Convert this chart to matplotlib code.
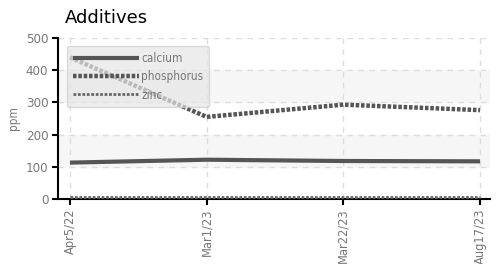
import matplotlib
matplotlib.use("Agg")
import matplotlib.pyplot as plt

dates = ["Apr5/22", "Mar1/23", "Mar22/23", "Aug17/23"]
calcium = [113, 122, 118, 117]
phosphorus = [440, 255, 293, 276]
zinc = [7, 7, 7, 7]

plt.rcParams["font.family"] = ["DejaVu Sans"]
plt.rcParams["font.stretch"] = "condensed"

fig = plt.figure(figsize=(4.96, 2.64), dpi=100)
ax = fig.add_axes([58 / 496, 1 - 199 / 264, 432 / 496, 161 / 264])

x = list(range(len(dates)))

# bandas alternas de fondo
for lo, hi in [(100, 200), (300, 400)]:
    ax.axhspan(lo, hi, color="#f6f6f6", zorder=0)

ax.plot(x, calcium, color="#555555", lw=3, solid_capstyle="butt", label="calcium", zorder=3)
ax.plot(x, phosphorus, color="#555555", lw=3.2, ls=(0, (0.8, 0.4)), label="phosphorus", zorder=3)
ax.plot(x, zinc, color="#666666", lw=2, ls=(0, (1, 0.6)), label="zinc", zorder=3)

ax.set_xlim(-12 / 137, 3 + 10 / 137)
ax.set_ylim(0, 500)
ax.set_yticks([0, 100, 200, 300, 400, 500])
ax.set_xticks(x)
ax.set_xticklabels(dates, rotation=90, fontsize=9.2)
ax.tick_params(axis="y", labelsize=9.5)
ax.tick_params(labelcolor="#777777", length=4, width=1.5, color="black", pad=3)
ax.grid(True, ls=(0, (4, 4)), color="#dddddd", lw=1)
ax.set_axisbelow(True)
for s in ["top", "right"]:
    ax.spines[s].set_visible(False)
for s in ["left", "bottom"]:
    ax.spines[s].set_linewidth(1.5)
ax.set_ylabel("ppm", color="#777777", fontsize=8.5)
ax.yaxis.set_label_coords(-0.088, 0.5)

leg = ax.legend(loc="upper left", bbox_to_anchor=(0.02, 0.95), fontsize=8.5,
                handlelength=5.6, handletextpad=0.2, labelspacing=0.45,
                fancybox=True, framealpha=0.7, facecolor="#e6e6e6",
                edgecolor="#cccccc", borderpad=0.5, borderaxespad=0)
for t in leg.get_texts():
    t.set_color("#777777")
leg.set_zorder(5)

fig.text(65 / 496, 1 - 18 / 264, "Additives", fontsize=13, va="center", ha="left",
         family=["DejaVu Sans"], stretch="normal")

fig.savefig("out.png", dpi=100)
